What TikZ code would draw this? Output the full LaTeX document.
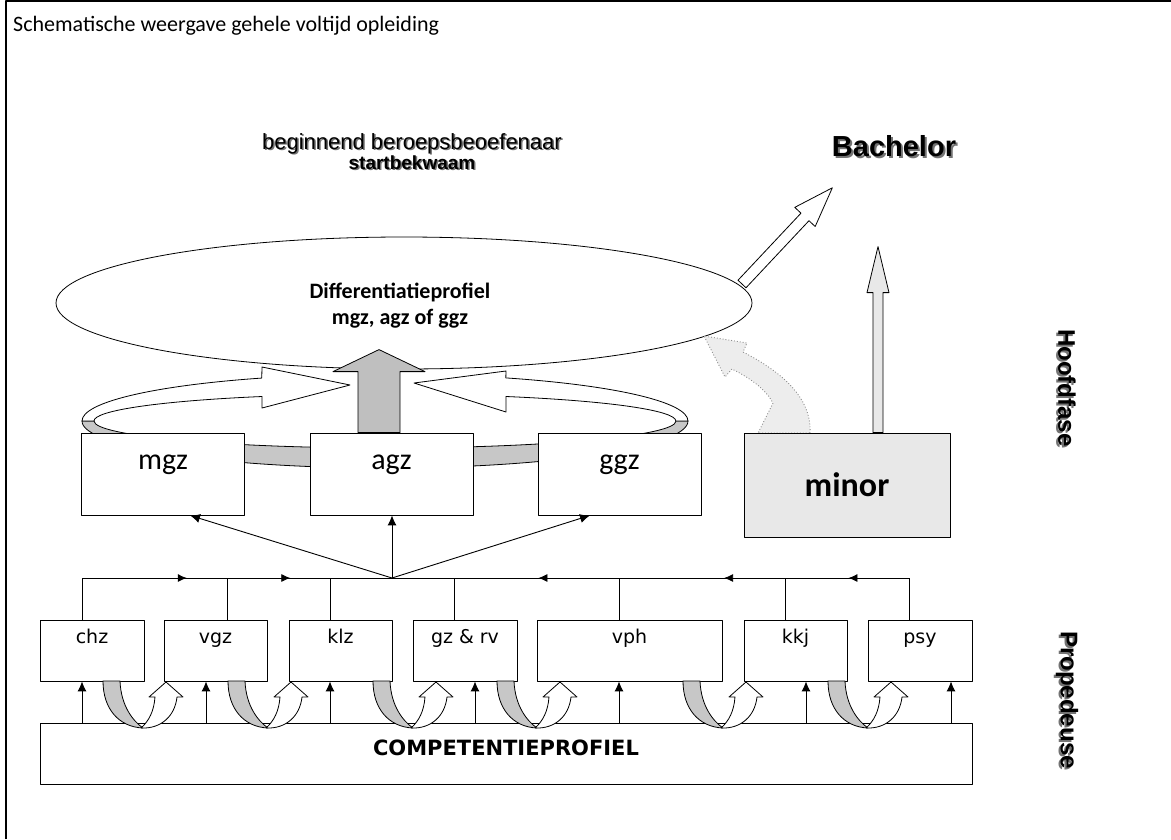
\documentclass[tikz,border=0pt]{standalone}
\usepackage{fontspec}
\setmainfont{Carlito}
\newfontfamily\verdanafont{DejaVu Sans}
\newfontfamily\arialfont{Liberation Sans}
\usetikzlibrary{arrows.meta}
\usetikzlibrary{calc}
\usetikzlibrary{decorations.markings}
\tikzset{>=latex}
\colorlet{ringgray}{black!22}
\colorlet{biggray}{black!25}
\colorlet{minorgray}{black!9}
\colorlet{dotgray}{black!7}
\tikzstyle{box}=[draw,line width=0.8pt,fill=white,inner sep=0pt]
\tikzstyle{lowbox}=[box,minimum height=61pt,text height=23pt,text depth=38pt,
                    font=\verdanafont\fontsize{19}{22}\selectfont]
\tikzstyle{upbox}=[box,minimum width=163pt,minimum height=82pt,text height=36pt,text depth=46pt,
                   font=\fontsize{30}{36}\selectfont]
\tikzset{
  bus arrow/.style={decoration={markings,
                    mark=at position #1 with {\arrow{Latex[length=9pt,width=8pt]}}},
                    postaction={decorate}},
  bus arrow/.default=0.5,
  up arrow/.style={line width=0.9pt,-{Latex[length=10pt,width=9pt]}}}
\newcommand\shadowed[2][1.5pt]{%
  \makebox[0pt][l]{\hspace*{#1}\raisebox{-#1}{\textcolor{black!55}{#2}}}#2}
\tikzset{
  blockarrow/.pic={
    \tikzset{/blockarrow/.cd,#1}
    \path[pic actions] (0,-\bashaft) -- ({\balen-\bahead},-\bashaft) -- ({\balen-\bahead},-\bawing)
      -- (\balen,0) -- ({\balen-\bahead},\bawing) -- ({\balen-\bahead},\bashaft) -- (0,\bashaft) -- cycle;
  },
  /blockarrow/.search also={/tikz},
  /blockarrow/.cd,
  len/.store in=\balen, len={100},
  shaft/.store in=\bashaft, shaft={5},
  wing/.store in=\bawing, wing={12},
  head/.store in=\bahead, head={30},
}
\tikzset{
  uturn/.pic={
    \filldraw[fill=ringgray] (0,0) .. controls (0,28) and (16,46) .. (40,47)
      .. controls (30,40) and (18,25) .. (17,0) -- cycle;
    \filldraw[fill=white] (38,47) .. controls (58,48) and (72,35) .. (74,16) -- (80,16) -- (63,1)
      -- (46,16) -- (52,16) .. controls (51,30) and (46,40) .. (38,47) -- cycle;
  }
}

\begin{document}
\begin{tikzpicture}[x=1pt,y=-1pt,line join=round]
  \useasboundingbox (0,0) rectangle (1171,839);

  % FRAME AND TITLE
  \draw[line width=1.5pt] (6,839) -- (6,1) -- (1171,1);
  \node[anchor=base west,inner sep=0pt,font=\fontsize{22}{26}\selectfont] (title) at (13,31)
    {Schematische weergave gehele voltijd opleiding};

  % TOP LABELS
  \node[align=center,font=\arialfont\fontsize{22}{20}\selectfont] (startbekwaam) at (412,152)
    {\shadowed{beginnend beroepsbeoefenaar}\\\fontsize{19}{20}\selectfont\bfseries\shadowed{startbekwaam}};
  \node[font=\arialfont\bfseries\fontsize{29}{34}\selectfont] (bachelor) at (894,147) {\shadowed[2pt]{Bachelor}};
  \node[rotate=-90,font=\arialfont\bfseries\fontsize{24}{28}\selectfont] (hoofdfase) at (1066,388) {\shadowed[2pt]{Hoofdfase}};
  \node[rotate=-90,font=\arialfont\bfseries\fontsize{24}{28}\selectfont] (propedeuse) at (1066,700) {\shadowed[2pt]{Propedeuse}};

  % RING (front part, behind the boxes)
  \filldraw[fill=ringgray,line width=0.8pt] (82,421) arc[start angle=180,end angle=0,x radius=303,y radius=47]
    -- (676,421) arc[start angle=0,end angle=180,x radius=291,y radius=27] -- cycle;

  % DIFFERENTIATIEPROFIEL
  \draw[fill=white,line width=0.8pt] (404,303) ellipse[x radius=348,y radius=66];
  \node[align=center,font=\bfseries\fontsize{22}{26}\selectfont] (profiel) at (400,306)
    {Differentiatieprofiel\\mgz, agz of ggz};

  % RING (back part with heads)
  \filldraw[fill=white,line width=0.8pt] (82,421) arc[start angle=180,end angle=246,x radius=303,y radius=47]
    -- (262,367) -- (350,385) -- (262,408) -- (262,396.5)
    arc[start angle=245,end angle=180,x radius=291,y radius=27] -- cycle;
  \filldraw[fill=white,line width=0.8pt] (688,421) arc[start angle=360,end angle=293.5,x radius=303,y radius=47]
    -- (506,371) -- (414,383) -- (506,412) -- (506,396.5)
    arc[start angle=294.6,end angle=360,x radius=291,y radius=27] -- cycle;

  % MINOR INTO PROFIEL
  \filldraw[fill=dotgray,draw=black!45,dotted,line width=0.9pt] (810,433)
    .. controls (812,398) and (782,372) .. (743,352) -- (747,343) -- (704,336) -- (725,377)
    -- (732,369) .. controls (752,379) and (766,390) .. (773,403) -- (758,433) -- cycle;

  % UPPER BOXES
  \foreach \name/\x in {mgz/163,agz/391.5,ggz/619.5}
    \node[upbox] (\name) at (\x,474) {\name};
  \node[box,fill=minorgray,minimum width=206pt,minimum height=104pt,
        font=\bfseries\fontsize{34}{40}\selectfont] (minor) at (847,485) {minor};

  % BLOCK ARROWS
  \pic[draw,fill=biggray,line width=0.8pt,rotate=90] at ([xshift=-12.5pt]agz.north)
    {blockarrow={len=83,shaft=21,wing=46,head=22}};
  \pic[draw,fill=minorgray,line width=0.8pt,rotate=90] at ([xshift=31pt]minor.north)
    {blockarrow={len=186,shaft=5,wing=11,head=46}};
  \pic[draw,fill=white,line width=0.8pt,rotate=46.8] at (742,284)
    {blockarrow={len=132,shaft=5.5,wing=14,head=40}};

  % LOWER BOXES
  \foreach \name/\lab/\x/\w in {chz/chz/92/104,vgz/vgz/215.5/103,klz/klz/340.5/103,
      gzrv/{gz \& rv}/465/104,vph/vph/629.5/185,kkj/kkj/795.5/103,psy/psy/920/104}
    \node[lowbox,minimum width=\w pt] (\name) at (\x,650.5) {\lab};
  \node[box,minimum width=932pt,text height=32pt,text depth=29pt,
        font=\verdanafont\bfseries\fontsize{21}{25}\selectfont] (comp) at (506,753.5) {COMPETENTIEPROFIEL};

  % BUS
  \coordinate (J) at (392,578);
  \foreach \name/\dx in {chz/-10,vgz/12,klz/-10,gzrv/-11,vph/-10,kkj/-10,psy/-11}{
    \coordinate (\name-bus) at ([xshift=\dx pt]\name.north);
    \draw[line width=0.8pt] (\name-bus) -- (\name-bus |- J);
  }
  \draw[line width=0.8pt,bus arrow=0.72] (chz-bus |- J) -- (vgz-bus |- J);
  \draw[line width=0.8pt,bus arrow=0.61] (vgz-bus |- J) -- (klz-bus |- J);
  \draw[line width=0.8pt] (klz-bus |- J) -- (gzrv-bus |- J);
  \draw[line width=0.8pt,bus arrow=0.49] (vph-bus |- J) -- (gzrv-bus |- J);
  \draw[line width=0.8pt,bus arrow=0.37] (kkj-bus |- J) -- (vph-bus |- J);
  \draw[line width=0.8pt,bus arrow=0.49] (psy-bus |- J) -- (kkj-bus |- J);
  \draw[up arrow] (J) -- ([xshift=27pt]mgz.south);
  \draw[up arrow] (J) -- ([xshift=0.5pt]agz.south);
  \draw[up arrow] (J) -- ([xshift=-29.5pt]ggz.south);

  % FROM COMPETENTIEPROFIEL
  \foreach \name/\dx in {chz/-10,vgz/-9.5,klz/-10.5,gzrv/10,vph/-10.5,kkj/10.5,psy/31}{
    \coordinate (\name-in) at ([xshift=\dx pt]\name.south);
    \draw[up arrow] (\name-in |- comp.north) -- (\name-in);
  }
  \foreach \x in {103,228,373,497,683,828}
    \pic[line width=0.8pt] at (\x,681) {uturn};

\end{tikzpicture}
\end{document}
